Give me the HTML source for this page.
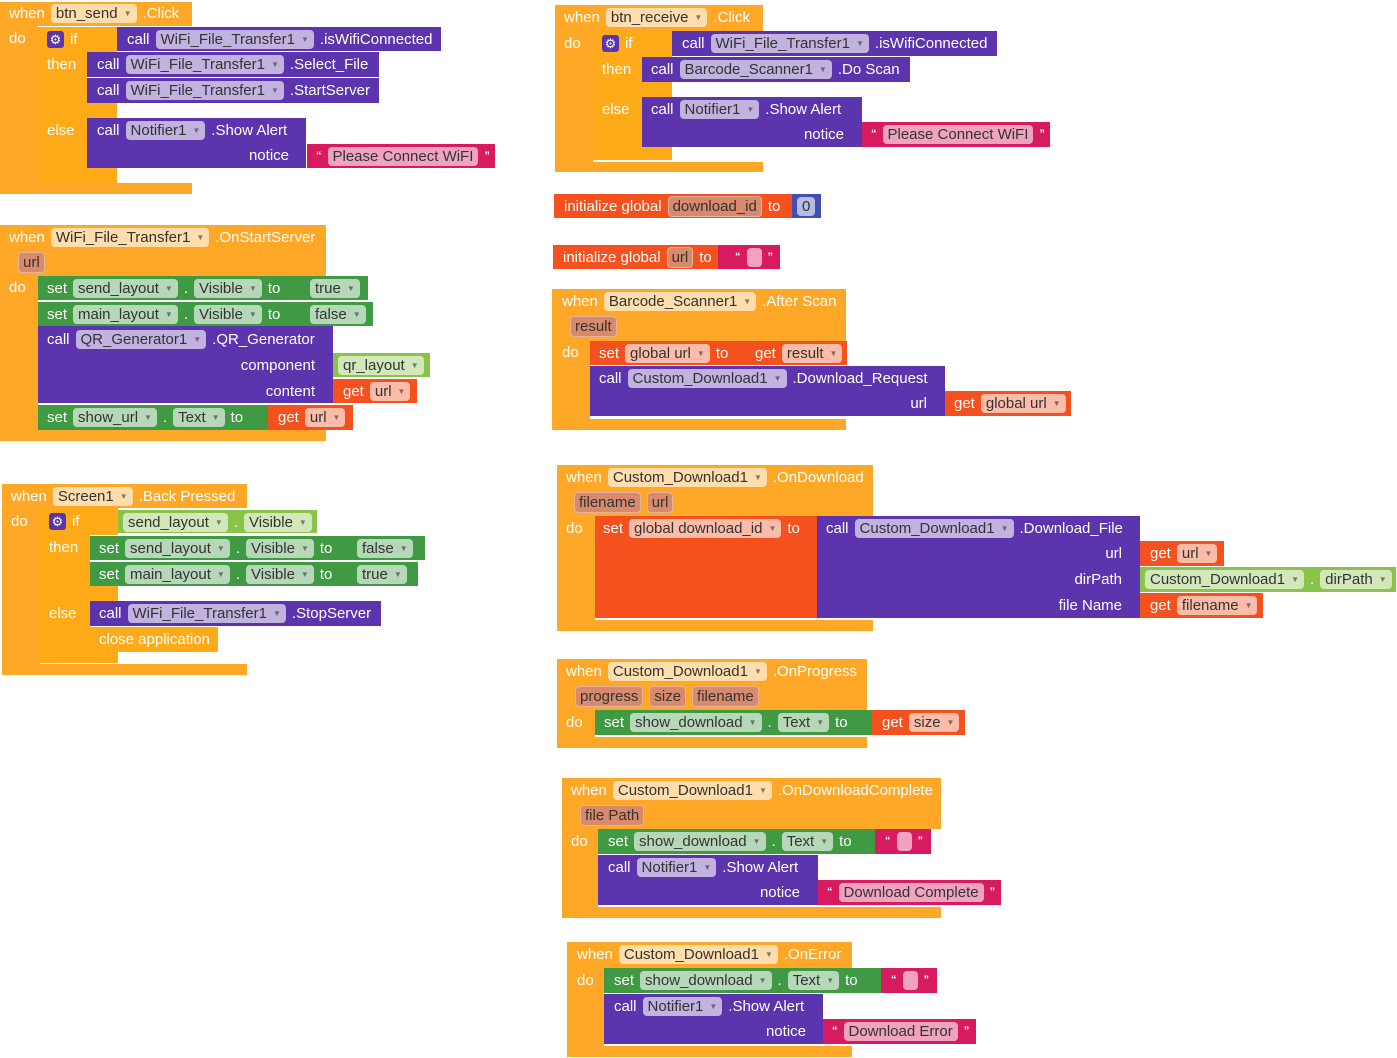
<!DOCTYPE html>
<html><head><meta charset="utf-8"><style>
body{margin:0;width:1397px;height:1058px;background:#fff;position:relative;overflow:hidden;font-family:"Liberation Sans",Arial,sans-serif;}
.r{position:absolute;}
.row{position:absolute;height:24px;display:flex;align-items:center;gap:6px;color:#fff;font-size:15px;white-space:nowrap;}
.p{background:rgba(255,255,255,0.62);color:#333;border-radius:4px;height:19px;line-height:19px;padding:0 5px;display:inline-flex;align-items:center;gap:6px;}
.p .a{font-size:8px;opacity:.6;}
.q{background:#d98a6c;color:#333;border-radius:4px;height:19px;line-height:19px;padding:0 4px;border:1px solid rgba(255,255,255,.35);}
.s{display:inline-flex;align-items:center;gap:6px;font-size:11px;font-weight:bold;}
.s span.p{background:rgba(255,255,255,0.6);font-size:15px;font-weight:normal;}
.g{width:17px;height:17px;background:#5c35ae;border-radius:3px;color:#fff;font-size:13px;line-height:17px;text-align:center;}
</style></head><body>
<script>
var OR='#ffa726',CT='#ffab19',PU='#5c35ae',DG='#409a44',LG='#8bc34a',RD='#f4511e',PK='#d81b60',BL='#3f51b5';
function R(name,x1,y1,x2,y2,c){
  var d=document.createElement('div');d.className='r';
  d.style.cssText='left:'+x1+'px;top:'+y1+'px;width:'+(x2-x1)+'px;height:'+(y2-y1)+'px;background:'+c+';';
  
  
  document.body.appendChild(d);return d;
}
function item(s){
  var e=document.createElement('span');
  if(s[0]=='['){e.className='p';e.innerHTML=s.slice(1)+'<span class="a">▼</span>';}
  else if(s[0]=='{'){e.className='p';e.textContent=s.slice(1);}
  else if(s[0]=='('){e.className='q';e.textContent=s.slice(1);}
  else if(s[0]=='<'){e.className='s';var t=s.slice(1);e.innerHTML='“<span class="p" style="'+(t?'':'width:5px;')+'">'+t+'</span>”';}
  else if(s=='G'){e.className='g';e.textContent='⚙';}
  else e.textContent=s;
  return e;
}
function T(name,x,y,items,right){
  var d=document.createElement('div');d.className='row';
  if(right){d.style.right=(1397-x)+'px';}else d.style.left=x+'px';
  d.style.top=y+'px';
  
  
  items.forEach(function(s){d.appendChild(item(s));});
  document.body.appendChild(d);return d;
}
/* Block 1: btn_send.Click */
R('btn-send-event',0,2,192,26,OR);R('btn-send-event-col',0,26,38,194,OR);R('btn-send-event-bottom',0,183,192,194,OR);
R('if-block-1',37,27,117,52,CT);R('if-block-1-arm',37,52,87,184,CT);R('if-block-1-mid',37,103,117,118,CT);R('if-block-1-bot',37,168,117,184,CT);
T('btn-send-header',9,1,['when','[btn_send','.Click']);
T('do-label',9,26,['do']);
T('if-label',47,27,['G','if']);T('then-label',47,52,['then']);T('else-label',47,118,['else']);
R('call-iswificonnected-1',117,27,441,51,PU);T('call-iswificonnected-1-text',127,27,['call','[WiFi_File_Transfer1','.isWifiConnected']);
R('call-select-file',87,52,379,77,PU);T('call-select-file-text',97,52,['call','[WiFi_File_Transfer1','.Select_File']);
R('call-startserver',87,78,379,103,PU);T('call-startserver-text',97,78,['call','[WiFi_File_Transfer1','.StartServer']);
R('call-show-alert-1',87,118,306,168,PU);T('call-show-alert-1-text',97,118,['call','[Notifier1','.Show Alert']);T('notice-1',289,143,['notice'],1);
R('text-please-connect-1',307,144,495,168,PK);T('text-please-connect-1-t',316,144,['<Please Connect WiFI']);
/* Block 2: OnStartServer */
R('onstartserver-event',0,225,326,276,OR);R('onstartserver-col',0,276,38,441,OR);R('onstartserver-bottom',0,430,326,441,OR);
T('onstartserver-header',9,225,['when','[WiFi_File_Transfer1','.OnStartServer']);
T('url-param',18,250,['(url']);T('do-label-2',9,275,['do']);
R('set-send-layout',38,276,305,300,DG);T('set-send-layout-t',47,276,['set','[send_layout','.','[Visible','to']);
R('true-block',305,276,368,300,DG);T('true-t',310,276,['[true']);
R('set-main-layout',38,302,305,326,DG);T('set-main-layout-t',47,302,['set','[main_layout','.','[Visible','to']);
R('false-block',305,302,373,326,DG);T('false-t',310,302,['[false']);
R('call-qr-generator',38,326,333,403,PU);T('call-qr-t',47,327,['call','[QR_Generator1','.QR_Generator']);
T('component-label',315,353,['component'],1);T('content-label',315,379,['content'],1);
R('qr-layout-block',333,353,430,377,LG);T('qr-layout-t',338,353,['[qr_layout']);
R('get-url-1',333,379,417,403,RD);T('get-url-1-t',343,379,['get','[url']);
R('set-show-url',38,405,268,430,DG);T('set-show-url-t',47,405,['set','[show_url','.','[Text','to']);
R('get-url-2',268,405,353,430,RD);T('get-url-2-t',278,405,['get','[url']);
/* Block 3: Back Pressed */
R('backpressed-event',2,484,247,508,OR);R('backpressed-col',2,508,40,675,OR);R('backpressed-bottom',2,664,247,675,OR);
T('backpressed-header',11,484,['when','[Screen1','.Back Pressed']);T('do-label-3',11,509,['do']);
R('if-block-3',40,508,118,535,CT);R('if-block-3-arm',40,535,90,663,CT);R('if-block-3-mid',40,586,118,601,CT);R('if-block-3-bot',40,652,118,663,CT);
T('if-label-3',49,509,['G','if']);T('then-label-3',49,535,['then']);T('else-label-3',49,601,['else']);
R('get-send-layout-visible',118,510,317,533,LG);T('get-send-layout-visible-t',123,510,['[send_layout','.','[Visible']);
R('set-send-layout-3',90,536,352,560,DG);T('set-send-layout-3-t',99,536,['set','[send_layout','.','[Visible','to']);
R('false-block-3',352,536,425,560,DG);T('false-3-t',357,536,['[false']);
R('set-main-layout-3',90,562,352,586,DG);T('set-main-layout-3-t',99,562,['set','[main_layout','.','[Visible','to']);
R('true-block-3',352,562,418,586,DG);T('true-3-t',357,562,['[true']);
R('call-stopserver',90,601,381,626,PU);T('call-stopserver-t',99,601,['call','[WiFi_File_Transfer1','.StopServer']);
R('close-application',90,627,218,652,CT);T('close-application-t',99,627,['close application']);
/* Block 4: btn_receive */
R('btn-receive-event',555,5,763,31,OR);R('btn-receive-col',555,31,593,172,OR);R('btn-receive-bottom',555,162,763,172,OR);
T('btn-receive-header',564,5,['when','[btn_receive','.Click']);T('do-label-4',564,31,['do']);
R('if-block-4',593,31,672,57,CT);R('if-block-4-arm',593,57,642,160,CT);R('if-block-4-mid',593,82,672,97,CT);R('if-block-4-bot',593,147,672,160,CT);
T('if-label-4',602,31,['G','if']);T('then-label-4',602,57,['then']);T('else-label-4',602,97,['else']);
R('call-iswificonnected-2',672,31,997,56,PU);T('call-iswificonnected-2-t',682,31,['call','[WiFi_File_Transfer1','.isWifiConnected']);
R('call-doscan',642,57,910,82,PU);T('call-doscan-t',651,57,['call','[Barcode_Scanner1','.Do Scan']);
R('call-show-alert-2',642,97,862,147,PU);T('call-show-alert-2-t',651,97,['call','[Notifier1','.Show Alert']);T('notice-2',844,122,['notice'],1);
R('text-please-connect-2',862,122,1050,147,PK);T('text-please-connect-2-t',871,122,['<Please Connect WiFI']);
/* init globals */
R('init-download-id',554,194,792,218,RD);T('init-download-id-t',564,194,['initialize global','(download_id','to']);
R('number-0',792,194,821,218,BL);T('number-0-t',797,194,['{0']);
R('init-url',553,245,718,269,RD);T('init-url-t',563,245,['initialize global','(url','to']);
R('empty-text-1',718,245,780,269,PK);T('empty-text-1-t',735,245,['<']);
/* AfterScan */
R('afterscan-event',552,289,846,341,OR);R('afterscan-col',552,341,590,430,OR);R('afterscan-bottom',552,419,846,430,OR);
T('afterscan-header',562,289,['when','[Barcode_Scanner1','.After Scan']);T('result-param',570,314,['(result']);T('do-label-5',562,340,['do']);
R('set-global-url',590,341,745,365,RD);T('set-global-url-t',599,341,['set','[global url','to']);
R('get-result',745,341,847,365,RD);T('get-result-t',755,341,['get','[result']);
R('call-download-request',590,366,945,416,PU);T('call-download-request-t',599,366,['call','[Custom_Download1','.Download_Request']);T('url-label',927,391,['url'],1);
R('get-global-url',945,391,1071,416,RD);T('get-global-url-t',954,391,['get','[global url']);
/* OnDownload */
R('ondownload-event',557,465,873,516,OR);R('ondownload-col',557,516,595,631,OR);R('ondownload-bottom',557,620,873,631,OR);
T('ondownload-header',566,465,['when','[Custom_Download1','.OnDownload']);T('ondownload-params',574,490,['(filename','(url']);T('do-label-6',566,516,['do']);
R('set-global-download-id',595,516,817,618,RD);T('set-global-download-id-t',603,516,['set','[global download_id','to']);
R('call-download-file',817,516,1140,618,PU);T('call-download-file-t',826,516,['call','[Custom_Download1','.Download_File']);
T('url-label-2',1122,541,['url'],1);T('dirpath-label',1122,567,['dirPath'],1);T('filename-label',1122,593,['file Name'],1);
R('get-url-3',1140,541,1224,566,RD);T('get-url-3-t',1150,541,['get','[url']);
R('dirpath-block',1140,567,1396,592,LG);T('dirpath-block-t',1145,567,['[Custom_Download1','.','[dirPath']);
R('get-filename',1140,593,1263,618,RD);T('get-filename-t',1150,593,['get','[filename']);
/* OnProgress */
R('onprogress-event',557,659,867,710,OR);R('onprogress-col',557,710,595,748,OR);R('onprogress-bottom',557,737,867,748,OR);
T('onprogress-header',566,659,['when','[Custom_Download1','.OnProgress']);T('onprogress-params',575,684,['(progress','(size','(filename']);T('do-label-7',566,710,['do']);
R('set-show-download-1',595,710,872,735,DG);T('set-show-download-1-t',604,710,['set','[show_download','.','[Text','to']);
R('get-size',872,710,965,735,RD);T('get-size-t',882,710,['get','[size']);
/* OnDownloadComplete */
R('oncomplete-event',562,778,941,829,OR);R('oncomplete-col',562,829,598,918,OR);R('oncomplete-bottom',562,907,941,918,OR);
T('oncomplete-header',571,778,['when','[Custom_Download1','.OnDownloadComplete']);T('filepath-param',580,803,['(file Path']);T('do-label-8',571,829,['do']);
R('set-show-download-2',598,829,875,854,DG);T('set-show-download-2-t',608,829,['set','[show_download','.','[Text','to']);
R('empty-text-2',875,829,931,854,PK);T('empty-text-2-t',885,829,['<']);
R('call-show-alert-3',598,855,818,905,PU);T('call-show-alert-3-t',608,855,['call','[Notifier1','.Show Alert']);T('notice-3',800,880,['notice'],1);
R('text-download-complete',818,880,1001,905,PK);T('text-download-complete-t',827,880,['<Download Complete']);
/* OnError */
R('onerror-event',567,942,852,968,OR);R('onerror-col',567,968,604,1057,OR);R('onerror-bottom',567,1046,852,1057,OR);
T('onerror-header',577,942,['when','[Custom_Download1','.OnError']);T('do-label-9',577,968,['do']);
R('set-show-download-3',604,968,881,993,DG);T('set-show-download-3-t',614,968,['set','[show_download','.','[Text','to']);
R('empty-text-3',881,968,937,993,PK);T('empty-text-3-t',891,968,['<']);
R('call-show-alert-4',604,994,823,1044,PU);T('call-show-alert-4-t',614,994,['call','[Notifier1','.Show Alert']);T('notice-4',806,1019,['notice'],1);
R('text-download-error',823,1019,976,1044,PK);T('text-download-error-t',832,1019,['<Download Error']);
</script>
</body></html>
